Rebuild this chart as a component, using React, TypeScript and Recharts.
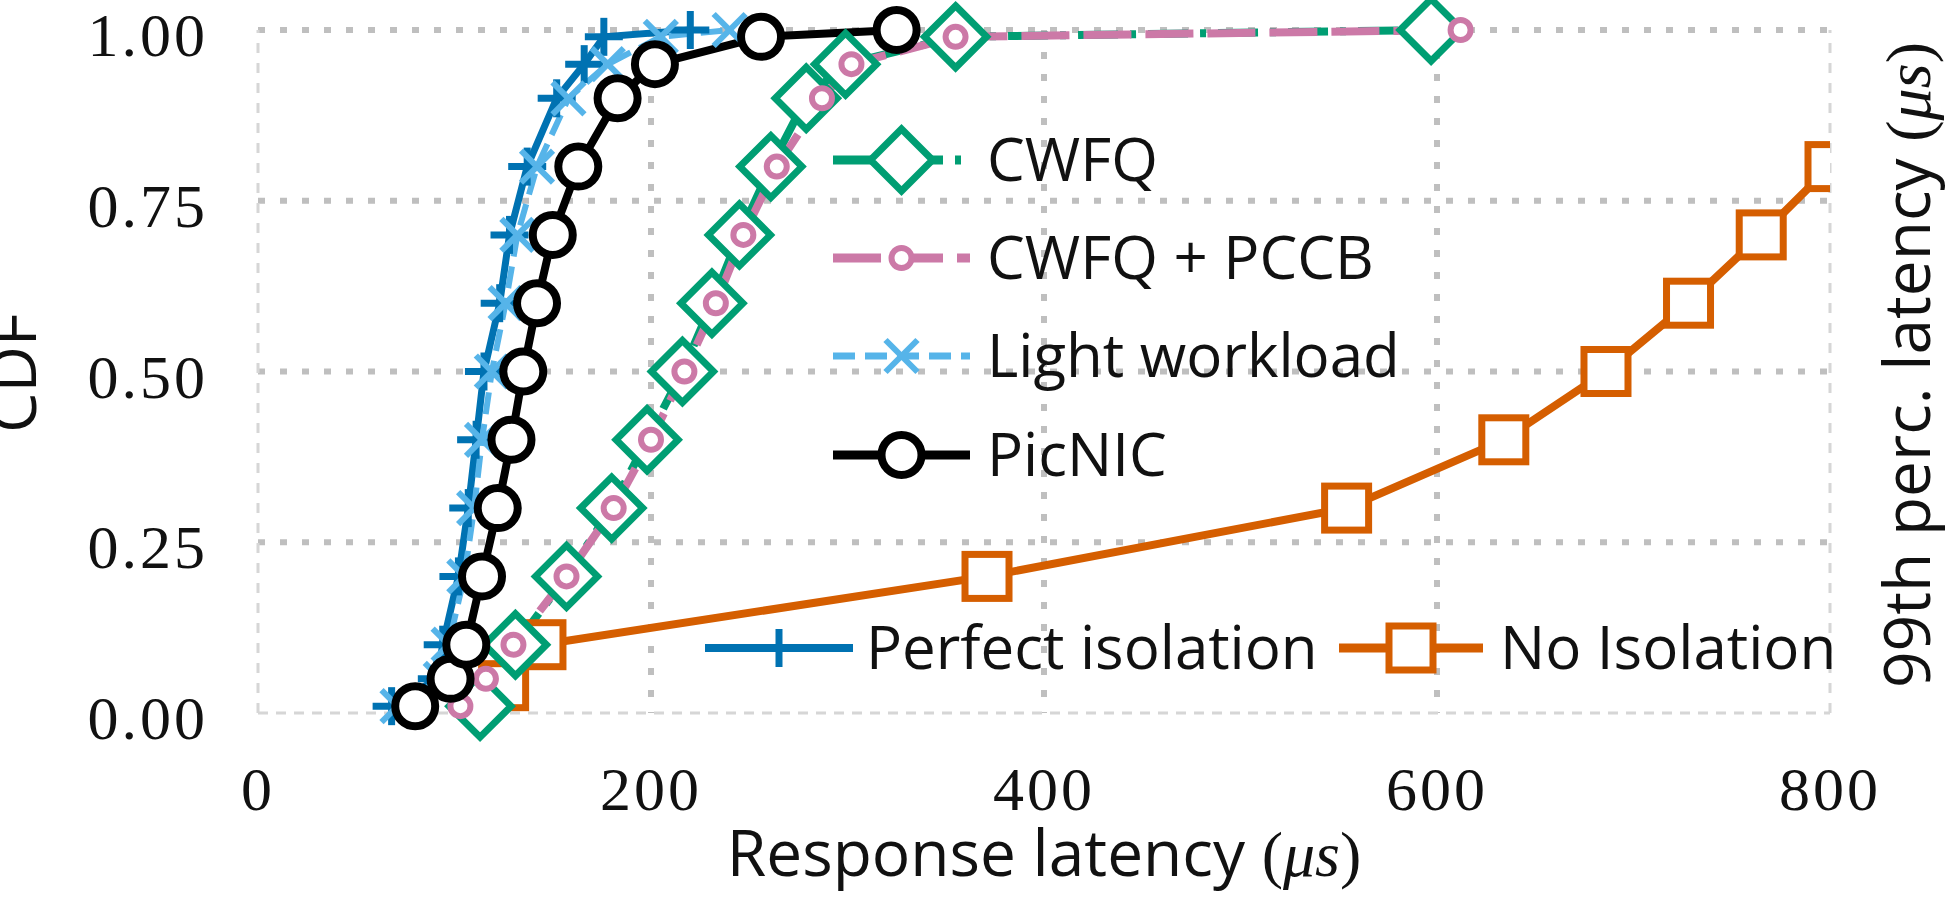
import React from "react";
import { LineChart, Line, XAxis, YAxis, CartesianGrid, ReferenceLine, Legend } from "recharts";

// values: response latency (us) at each CDF level
const cdfLevels = [0.01, 0.05, 0.1, 0.2, 0.3, 0.4, 0.5, 0.6, 0.7, 0.8, 0.9, 0.95, 0.99, 1.0];
const perfectLatency = [68, 91, 94, 102, 107, 111, 115, 123, 128, 137, 152, 166, 176, 220];
const lightLatency = [71, 93, 97, 105, 110, 114, 119, 126, 132, 142, 158, 178, 205, 240];
const picnicLatency = [80, 98, 106, 114, 122, 129, 135, 142, 150, 163, 183, 202, 256, 325];
const pccbLatency = [103, 116, 130, 157, 181, 200, 217, 233, 247, 264, 287, 302, 355, 612];

const cwfqLevels = [0.01, 0.1, 0.2, 0.3, 0.4, 0.5, 0.6, 0.7, 0.8, 0.9, 0.95, 0.99, 1.0];
const cwfqLatency = [113, 131, 157, 180, 198, 216, 231, 245, 261, 279, 299, 355, 597];

const noIsoLevels = [0.04, 0.1, 0.2, 0.3, 0.4, 0.5, 0.6, 0.7, 0.8];
const noIsoLatency = [125, 144, 371, 554, 634, 686, 728, 765, 800];

const xTicks = [0, 200, 400, 600, 800];
const yTicks = [0, 0.25, 0.5, 0.75, 1];
const gridX = [200, 400, 600];
const gridY = [0.25, 0.5, 0.75, 1];

const W = 1957;
const H = 897;
const PLOT_LEFT = 258;
const PLOT_RIGHT = 1830;
const PLOT_TOP = 30;
const PLOT_BOTTOM = 713;

const SANS = "'Open Sans', sans-serif";
const SERIF = "'Liberation Serif', serif";

type MarkerKind = "plus" | "cross" | "diamond" | "dot" | "circle" | "square";

const toPoints = (xs: number[], ys: number[]) => xs.map((x, i) => ({ latency: x, cdf: ys[i] }));

const series = [
  { name: "Perfect isolation", data: toPoints(perfectLatency, cdfLevels), color: "#0072B2", dash: undefined, width: 7, marker: "plus" as MarkerKind },
  { name: "No Isolation", data: toPoints(noIsoLatency, noIsoLevels), color: "#D55E00", dash: undefined, width: 8, marker: "square" as MarkerKind },
  { name: "CWFQ", data: toPoints(cwfqLatency, cwfqLevels), color: "#009E73", dash: "40 12 6 12", width: 8, marker: "diamond" as MarkerKind },
  { name: "CWFQ + PCCB", data: toPoints(pccbLatency, cdfLevels), color: "#CC79A7", dash: "48 14", width: 8, marker: "dot" as MarkerKind },
  { name: "Light workload", data: toPoints(lightLatency, cdfLevels), color: "#56B4E9", dash: "22 10", width: 6, marker: "cross" as MarkerKind },
  { name: "PicNIC", data: toPoints(picnicLatency, cdfLevels), color: "#000000", dash: undefined, width: 8, marker: "circle" as MarkerKind },
];

// where each legend entry sits (sample line x1..x2, row centre y, text x)
const legendSlots: Record<string, { x1: number; x2: number; y: number; tx: number }> = {
  CWFQ: { x1: 833, x2: 970, y: 160, tx: 987 },
  "CWFQ + PCCB": { x1: 833, x2: 970, y: 258, tx: 987 },
  "Light workload": { x1: 833, x2: 970, y: 356, tx: 987 },
  PicNIC: { x1: 833, x2: 970, y: 455, tx: 987 },
  "Perfect isolation": { x1: 705, x2: 853, y: 648, tx: 866 },
  "No Isolation": { x1: 1339, x2: 1483, y: 648, tx: 1500 },
};

const Marker = ({ kind, cx, cy, color }: { kind: MarkerKind; cx: number; cy: number; color: string }) => {
  switch (kind) {
    case "plus":
      return (
        <g>
          <line x1={cx - 19} y1={cy} x2={cx + 19} y2={cy} stroke={color} strokeWidth={7} />
          <line x1={cx} y1={cy - 19} x2={cx} y2={cy + 19} stroke={color} strokeWidth={7} />
        </g>
      );
    case "cross":
      return (
        <g>
          <line x1={cx - 16} y1={cy - 16} x2={cx + 16} y2={cy + 16} stroke={color} strokeWidth={6} />
          <line x1={cx - 16} y1={cy + 16} x2={cx + 16} y2={cy - 16} stroke={color} strokeWidth={6} />
        </g>
      );
    case "diamond":
      return (
        <polygon
          points={`${cx},${cy - 31} ${cx + 31},${cy} ${cx},${cy + 31} ${cx - 31},${cy}`}
          fill="#fff"
          stroke={color}
          strokeWidth={7}
        />
      );
    case "dot":
      return <circle cx={cx} cy={cy} r={10} fill="#fff" stroke={color} strokeWidth={6} />;
    case "circle":
      return <circle cx={cx} cy={cy} r={20} fill="#fff" stroke={color} strokeWidth={8} />;
    case "square":
      return <rect x={cx - 22} y={cy - 22} width={44} height={44} fill="#fff" stroke={color} strokeWidth={7} />;
  }
  return null;
};

const makeDot = (kind: MarkerKind, color: string, name: string) => (props: any) => {
  const { cx, cy, index } = props;
  if (cx == null || cy == null) return <g key={`${name}-${index}`} />;
  return (
    <g key={`${name}-${index}`}>
      <Marker kind={kind} cx={cx} cy={cy} color={color} />
    </g>
  );
};

const XTick = ({ x, y, payload }: any) => (
  <text x={x} y={y + 97} textAnchor="middle" fontFamily={SERIF} fontSize={62} letterSpacing={3} fill="#111">
    {payload.value}
  </text>
);

const YTick = ({ x, y, payload }: any) => (
  <text x={x - 50} y={y + 26} textAnchor="end" fontFamily={SERIF} fontSize={62} letterSpacing={3} fill="#111">
    {Number(payload.value).toFixed(2)}
  </text>
);

const XTitle = () => (
  <text x={(PLOT_LEFT + PLOT_RIGHT) / 2} y={876} textAnchor="middle" fontFamily={SANS} fontSize={64} fill="#111">
    Response latency{" "}
    <tspan fontFamily={SERIF}>
      (<tspan fontStyle="italic">μs</tspan>)
    </tspan>
  </text>
);

const LeftTitle = () => (
  <text x={36} y={373} transform="rotate(-90, 36, 373)" textAnchor="middle" fontFamily={SANS} fontSize={64} fill="#111">
    CDF
  </text>
);

const RightTitle = () => (
  <text x={1930} y={365} transform="rotate(-90, 1930, 365)" textAnchor="middle" fontFamily={SANS} fontSize={64} fill="#111">
    99th perc. latency{" "}
    <tspan fontFamily={SERIF}>
      (<tspan fontStyle="italic">μs</tspan>)
    </tspan>
  </text>
);

const renderLegend = () => (
  <svg width={W} height={H} style={{ display: "block" }}>
    {series.map((s) => {
      const slot = legendSlots[s.name];
      const mid = (slot.x1 + slot.x2) / 2;
      return (
        <g key={s.name}>
          <line x1={slot.x1} y1={slot.y} x2={slot.x2} y2={slot.y} stroke={s.color} strokeWidth={s.width + 1} strokeDasharray={s.dash} />
          <Marker kind={s.marker} cx={mid} cy={slot.y} color={s.color} />
          <text x={slot.tx} y={slot.y + 21} fontFamily={SANS} fontSize={60} fill="#111">
            {s.name}
          </text>
        </g>
      );
    })}
  </svg>
);

const App = () => {
  return (
    <div style={{ position: "absolute", left: 0, top: 0, width: W, height: H, background: "#fff" }}>
      <LineChart width={W} height={H} margin={{ top: PLOT_TOP, right: 0, bottom: 0, left: 0 }}>
        <CartesianGrid
          horizontalValues={gridY}
          verticalValues={gridX}
          stroke="#bfbfbf"
          strokeWidth={6}
          strokeDasharray="7 15"
        />
        <ReferenceLine x={0} stroke="#d6d6d6" strokeWidth={3} strokeDasharray="10 10" />
        <ReferenceLine x={800} stroke="#d6d6d6" strokeWidth={3} strokeDasharray="10 10" />
        <ReferenceLine y={0} stroke="#d6d6d6" strokeWidth={3} strokeDasharray="10 8" />
        <XAxis
          type="number"
          dataKey="latency"
          domain={[0, 800]}
          ticks={xTicks}
          allowDataOverflow
          height={H - PLOT_BOTTOM}
          axisLine={false}
          tickLine={false}
          tickSize={0}
          tickMargin={0}
          tick={<XTick />}
          label={<XTitle />}
        />
        <YAxis
          type="number"
          dataKey="cdf"
          domain={[0, 1]}
          ticks={yTicks}
          width={PLOT_LEFT}
          axisLine={false}
          tickLine={false}
          tickSize={0}
          tickMargin={0}
          tick={<YTick />}
          label={<LeftTitle />}
        />
        <YAxis
          yAxisId="right"
          orientation="right"
          width={W - PLOT_RIGHT}
          tick={false}
          axisLine={false}
          tickLine={false}
          label={<RightTitle />}
        />
        <Legend
          content={renderLegend}
          layout="horizontal"
          align="center"
          verticalAlign="middle"
          wrapperStyle={{ position: "absolute", left: 0, top: 0, width: W, height: H, pointerEvents: "none" }}
        />
        {series.map((s) => (
          <Line
            key={s.name}
            data={s.data}
            dataKey="cdf"
            name={s.name}
            type="linear"
            stroke={s.color}
            strokeWidth={s.width}
            strokeDasharray={s.dash}
            dot={makeDot(s.marker, s.color, s.name)}
            activeDot={false}
            isAnimationActive={false}
          />
        ))}
      </LineChart>
    </div>
  );
};

export default App;
